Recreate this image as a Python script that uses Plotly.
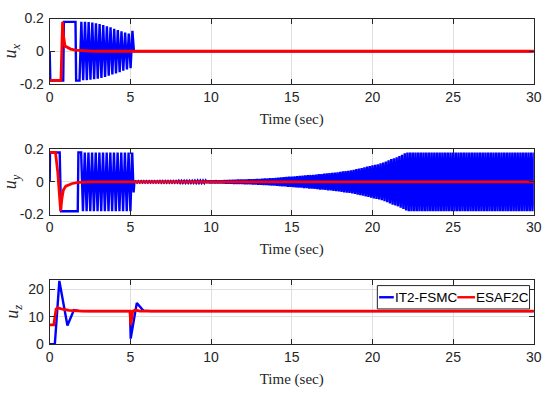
import plotly.graph_objects as go

W, H = 548, 405

# ---------------- data ----------------
time_ticks = [0, 5, 10, 15, 20, 25, 30]
u_ticks = [-0.2, 0, 0.2]
u_tick_text = ["-0.2", "0", "0.2"]
uz_ticks = [0, 10, 20]

# u_x, IT2-FSMC: reaching phase
ux_fsmc_t = [0.0, 0.04, 0.84, 0.88, 1.60, 1.64, 1.85]
ux_fsmc_v = [0.0, -0.18, -0.18, 0.18, 0.18, -0.18, -0.18]
# u_x, IT2-FSMC: chattering peaks (alternating sign), then settled
ux_chat_start = 1.85
ux_chat_half = 0.113
ux_chat_peaks = [0.180, -0.178, 0.180, -0.177, 0.178, -0.175, 0.175, -0.172,
                 0.171, -0.168, 0.166, -0.163, 0.160, -0.157, 0.153, -0.150,
                 0.146, -0.143, 0.138, -0.136, 0.130, -0.128, 0.122, -0.120,
                 0.114, -0.112, 0.108, -0.104, 0.125]
ux_fsmc_tail_t = [5.22, 30.0]
ux_fsmc_tail_v = [0.0, 0.0]

# u_x, ESAF2C
ux_esaf_t = [0.0, 0.70, 0.80, 0.86, 0.95, 1.10, 1.30, 1.60, 2.00, 2.50, 3.00, 30.0]
ux_esaf_v = [-0.178, -0.178, 0.180, 0.090, 0.032, 0.022, 0.013, 0.007, 0.003, 0.001, 0.0, 0.0]

# u_y, IT2-FSMC: reaching phase
uy_fsmc_t = [0.0, 0.02, 0.62, 0.70, 1.74, 1.78, 1.95]
uy_fsmc_v = [0.0, 0.18, 0.18, -0.18, -0.18, 0.18, 0.18]
# u_y, IT2-FSMC: full-amplitude chattering
uy_chat_start = 1.95
uy_chat_half = 0.113
uy_chat_peaks = [-0.18, 0.18] * 14
# u_y, IT2-FSMC: switch-off transient
uy_switch_t = [5.20, 5.25]
uy_switch_v = [-0.065, 0.0]
# u_y, IT2-FSMC: growing oscillation, amplitude per cycle (6 cycles per second)
uy_osc_start = 5.25
uy_osc_half = 1.0 / 12.0
uy_osc_amp = [
    0.004, 0.004, 0.004, 0.004, 0.004, 0.004,   # 5.25 s
    0.004, 0.004, 0.004, 0.005, 0.005, 0.005,   # 6.25 s
    0.005, 0.005, 0.005, 0.005, 0.006, 0.006,   # 7.25 s
    0.006, 0.006, 0.006, 0.006, 0.007, 0.007,   # 8.25 s
    0.007, 0.007, 0.007, 0.008, 0.008, 0.008,   # 9.25 s
    0.009, 0.009, 0.009, 0.010, 0.010, 0.011,   # 10.25 s
    0.012, 0.012, 0.013, 0.013, 0.014, 0.014,   # 11.25 s
    0.015, 0.016, 0.016, 0.017, 0.018, 0.019,   # 12.25 s
    0.020, 0.021, 0.022, 0.023, 0.024, 0.026,   # 13.25 s
    0.027, 0.028, 0.030, 0.031, 0.032, 0.034,   # 14.25 s
    0.035, 0.036, 0.038, 0.039, 0.041, 0.042,   # 15.25 s
    0.043, 0.045, 0.047, 0.048, 0.050, 0.052,   # 16.25 s
    0.053, 0.055, 0.057, 0.059, 0.061, 0.064,   # 17.25 s
    0.066, 0.068, 0.071, 0.074, 0.078, 0.082,   # 18.25 s
    0.085, 0.089, 0.093, 0.097, 0.101, 0.105,   # 19.25 s
    0.108, 0.113, 0.119, 0.125, 0.132, 0.140,   # 20.25 s
    0.145, 0.150, 0.158, 0.166, 0.175, 0.180,   # 21.25 s
    0.180, 0.180, 0.180, 0.180, 0.180, 0.180,   # 22.25 s
    0.180, 0.180, 0.180, 0.180, 0.180, 0.180,   # 23.25 s
    0.180, 0.180, 0.180, 0.180, 0.180, 0.180,   # 24.25 s
    0.180, 0.180, 0.180, 0.180, 0.180, 0.180,   # 25.25 s
    0.180, 0.180, 0.180, 0.180, 0.180, 0.180,   # 26.25 s
    0.180, 0.180, 0.180, 0.180, 0.180, 0.180,   # 27.25 s
    0.180, 0.180, 0.180, 0.180, 0.180, 0.180,   # 28.25 s
    0.180, 0.180, 0.180, 0.180, 0.180, 0.180,   # 29.25 s
]

# u_y, ESAF2C
uy_esaf_t = [0.0, 0.36, 0.50, 0.60, 0.68, 0.76, 0.85, 1.00, 1.20, 1.40, 1.80, 2.50, 30.0]
uy_esaf_v = [0.180, 0.180, 0.060, -0.100, -0.178, -0.100, -0.050, -0.026, -0.016, -0.010, -0.003, 0.0, 0.0]

# u_z
uz_fsmc_t = [0.0, 0.32, 0.60, 1.10, 1.50, 1.80, 2.50, 4.98, 5.02, 5.40, 5.80, 6.30, 30.0]
uz_fsmc_v = [0.0, 0.0, 23.0, 6.8, 12.4, 12.1, 12.0, 12.0, 2.0, 15.0, 12.2, 12.0, 12.0]
uz_esaf_t = [0.0, 0.25, 0.40, 0.50, 0.80, 1.20, 2.00, 4.98, 5.02, 5.15, 5.30, 5.60, 30.0]
uz_esaf_v = [7.0, 7.0, 12.8, 13.2, 12.7, 12.3, 12.0, 12.0, 7.0, 12.0, 12.4, 12.0, 12.0]

series_names = ["IT2-FSMC", "ESAF2C"]
y_titles = ["<i>u</i><sub><i>x</i></sub>", "<i>u</i><sub><i>y</i></sub>", "<i>u</i><sub><i>z</i></sub>"]


# ---------------- helpers ----------------
def alternating(t0, half, peaks):
    """Times/values of a zig-zag that visits each peak in turn."""
    ts = [t0 + (i + 1) * half for i in range(len(peaks))]
    return ts, list(peaks)


def signed_cycles(t0, half, amps):
    """One positive and one negative peak per cycle amplitude."""
    peaks = []
    for a in amps:
        peaks.extend([a, -a])
    return alternating(t0, half, peaks)


# assemble IT2-FSMC curves
t_a, v_a = alternating(ux_chat_start, ux_chat_half, ux_chat_peaks)
ux_blue_t = ux_fsmc_t + t_a + ux_fsmc_tail_t
ux_blue_v = ux_fsmc_v + v_a + ux_fsmc_tail_v

t_b, v_b = alternating(uy_chat_start, uy_chat_half, uy_chat_peaks)
t_c, v_c = signed_cycles(uy_osc_start, uy_osc_half, uy_osc_amp)
uy_blue_t = uy_fsmc_t + t_b + uy_switch_t + t_c
uy_blue_v = uy_fsmc_v + v_b + uy_switch_v + v_c

# ---------------- figure ----------------
BLUE, RED = "#0000ff", "#ff0000"
AX = "#262626"
GRID = "#dfdfdf"
SANS = "Liberation Sans, Arial, sans-serif"
SERIF = "Liberation Serif, Times New Roman, serif"

X0, X1 = 46.7, 541.7
panels = [(11.0, 79.0), (147.0, 215.0), (282.7, 350.0)]

fig = go.Figure()
curves = [
    (ux_blue_t, ux_blue_v, ux_esaf_t, ux_esaf_v),
    (uy_blue_t, uy_blue_v, uy_esaf_t, uy_esaf_v),
    (uz_fsmc_t, uz_fsmc_v, uz_esaf_t, uz_esaf_v),
]
for k, (bt, bv, rt, rv) in enumerate(curves):
    sfx = "" if k == 0 else str(k + 1)
    fig.add_trace(go.Scatter(x=bt, y=bv, mode="lines", name=series_names[0],
                             line=dict(color=BLUE, width=2.4), showlegend=False,
                             xaxis="x" + sfx, yaxis="y" + sfx))
    fig.add_trace(go.Scatter(x=rt, y=rv, mode="lines", name=series_names[1],
                             line=dict(color=RED, width=2.8), showlegend=False,
                             xaxis="x" + sfx, yaxis="y" + sfx))

common = dict(showline=True, linecolor=AX, linewidth=1, mirror="ticks",
              ticks="inside", ticklen=5, tickcolor=AX, tickwidth=1,
              showgrid=True, gridcolor=GRID, gridwidth=1, zeroline=False,
              ticklabeloverflow="allow",
              tickfont=dict(family=SANS, size=14, color=AX))

layout = dict(width=W, height=H, margin=dict(l=0, r=0, t=0, b=0),
              paper_bgcolor="white", plot_bgcolor="white", showlegend=False)

for k, (top, bot) in enumerate(panels):
    sfx = "" if k == 0 else str(k + 1)
    xa = dict(common, domain=[X0 / W, X1 / W], anchor="y" + sfx, range=[0, 30],
              tickvals=time_ticks, ticklabelstandoff=0,
              title=dict(text="Time (sec)", font=dict(family=SERIF, size=15, color=AX),
                         standoff=9))
    if k < 2:
        ya = dict(common, domain=[1 - bot / H, 1 - top / H], anchor="x" + sfx,
                  range=[-0.2, 0.2], tickvals=u_ticks, ticktext=u_tick_text)
    else:
        ya = dict(common, domain=[1 - bot / H, 1 - top / H], anchor="x" + sfx,
                  range=[0, 23.5], tickvals=uz_ticks)
    ya["title"] = dict(text=y_titles[k], font=dict(family=SERIF, size=18, color=AX),
                       standoff=4)
    ya["ticklabelstandoff"] = 2
    layout["xaxis" + sfx] = xa
    layout["yaxis" + sfx] = ya

fig.update_layout(**layout)

# legend box drawn in the bottom panel
def px(x):
    return x / W


def py(y):
    return 1 - y / H


lg_l, lg_r, lg_t, lg_b = 381.7, 537.3, 289.0, 313.3
lg_mid = (lg_t + lg_b) / 2
fig.add_shape(type="rect", xref="paper", yref="paper",
              x0=px(lg_l), x1=px(lg_r), y0=py(lg_b), y1=py(lg_t),
              line=dict(color=AX, width=1), fillcolor="white", layer="above")
entries = [(383.5, 398.5, BLUE, series_names[0]), (463.5, 481.5, RED, series_names[1])]
for x0, x1, col, label in entries:
    fig.add_shape(type="line", xref="paper", yref="paper",
                  x0=px(x0), x1=px(x1), y0=py(lg_mid), y1=py(lg_mid),
                  line=dict(color=col, width=2.4), layer="above")
    fig.add_annotation(xref="paper", yref="paper", x=px(x1 + 0.5), y=py(lg_mid),
                       text=label, showarrow=False, xanchor="left", yanchor="middle",
                       xshift=-1, font=dict(family=SANS, size=13.5, color="black"))

fig.write_html("out.html")
